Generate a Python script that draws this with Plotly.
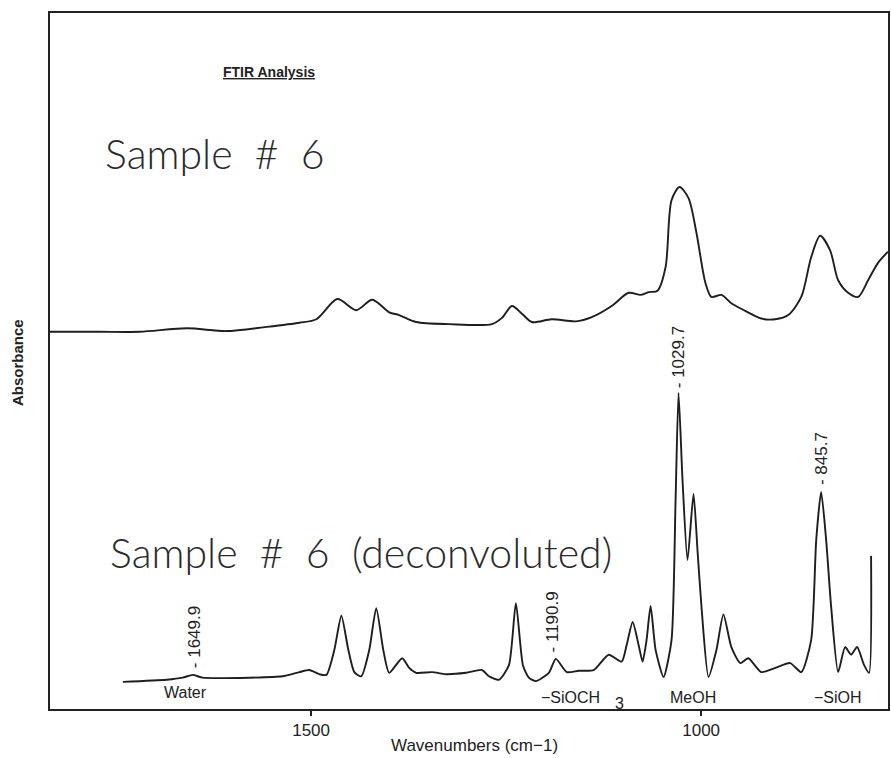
import plotly.graph_objects as go

# ---- data ----
# Sample #6, raw spectrum: wavenumber (cm-1) and absorbance (arbitrary units)
raw_wn = [1834.7, 1770.7, 1719.6, 1659.5, 1608.3, 1557.2, 1515.0, 1493.2, 1466.4, 1442.1,
          1421.6, 1399.9, 1387.1, 1365.3, 1323.1, 1268.1, 1255.4, 1242.6, 1229.8, 1217.0,
          1191.4, 1160.7, 1140.3, 1114.7, 1093.0, 1077.6, 1067.4, 1055.9, 1045.6, 1038.0,
          1027.7, 1016.2, 1006.0, 994.5, 986.8, 974.0, 961.3, 943.4, 922.9, 905.0,
          888.4, 871.7, 859.0, 847.5, 834.7, 824.4, 811.6, 798.8, 786.0, 773.3, 760.5]
raw_abs = [0.542, 0.542, 0.542, 0.547, 0.543, 0.549, 0.555, 0.560, 0.589, 0.573,
           0.588, 0.570, 0.566, 0.556, 0.553, 0.553, 0.562, 0.579, 0.568, 0.556,
           0.560, 0.557, 0.563, 0.579, 0.598, 0.595, 0.599, 0.601, 0.635, 0.731,
           0.750, 0.734, 0.684, 0.612, 0.592, 0.595, 0.583, 0.572, 0.561, 0.560,
           0.566, 0.592, 0.649, 0.680, 0.659, 0.616, 0.598, 0.592, 0.616, 0.641, 0.657]

# Sample #6, deconvoluted spectrum
dec_wn = [1741.3, 1685.0, 1664.6, 1651.8, 1639.0, 1578.9, 1536.7, 1515.0, 1502.2, 1489.4,
          1480.4, 1470.2, 1461.2, 1452.3, 1444.6, 1435.7, 1425.4, 1416.5, 1407.5, 1399.9,
          1383.3, 1374.3, 1365.3, 1344.9, 1327.0, 1301.4, 1281.0, 1272.0, 1259.2, 1246.4,
          1237.5, 1228.5, 1220.9, 1211.9, 1195.3, 1186.3, 1172.2, 1156.9, 1137.7, 1118.5,
          1101.9, 1095.5, 1087.8, 1080.2, 1075.1, 1070.0, 1064.8, 1058.4, 1048.2, 1038.0,
          1032.8, 1029.0, 1023.9, 1017.5, 1009.8, 1004.7, 999.6, 990.6, 980.4, 971.5,
          961.3, 949.8, 939.6, 922.9, 905.0, 885.8, 871.7, 859.0, 852.5, 846.2,
          839.8, 833.4, 824.4, 815.5, 807.8, 800.1, 791.1, 784.8, 782.2]
dec_abs = [0.039, 0.042, 0.045, 0.049, 0.045, 0.045, 0.047, 0.053, 0.056, 0.050,
           0.049, 0.085, 0.134, 0.085, 0.053, 0.047, 0.085, 0.145, 0.085, 0.052,
           0.073, 0.059, 0.052, 0.053, 0.050, 0.052, 0.056, 0.047, 0.042, 0.063,
           0.152, 0.063, 0.045, 0.040, 0.052, 0.072, 0.053, 0.055, 0.056, 0.078,
           0.068, 0.092, 0.125, 0.092, 0.068, 0.099, 0.148, 0.085, 0.046, 0.099,
           0.300, 0.454, 0.329, 0.214, 0.309, 0.228, 0.147, 0.046, 0.085, 0.136,
           0.089, 0.066, 0.073, 0.053, 0.059, 0.066, 0.053, 0.099, 0.243, 0.312,
           0.243, 0.147, 0.053, 0.089, 0.078, 0.089, 0.063, 0.052, 0.220]

peak_labels = ["1649.9", "1190.9", "1029.7", "845.7"]
peak_wn = [1649.9, 1190.9, 1029.7, 845.7]
peak_label_base = [0.056, 0.078, 0.458, 0.319]

group_labels = ["Water", "\u2212SiOCH", "3", "MeOH", "\u2212SiOH"]
group_wn = [1660.7, 1208.0, 1105.1, 1011.1, 824.4]
group_abs = [0.0244, 0.0172, 0.0086, 0.0172, 0.0172]
group_anchor = ["center", "left", "center", "center", "center"]

x_ticks = [1500, 1000]
x_range = [1834.7, 760.5]

# ---- figure ----
line_col = "#1e1e1e"
fig = go.Figure()
fig.add_trace(go.Scatter(x=raw_wn, y=raw_abs, mode="lines",
                         line=dict(color=line_col, width=1.9, shape="spline", smoothing=0.8),
                         showlegend=False, hoverinfo="skip"))
fig.add_trace(go.Scatter(x=dec_wn, y=dec_abs, mode="lines",
                         line=dict(color=line_col, width=1.9, shape="spline", smoothing=0.6),
                         showlegend=False, hoverinfo="skip"))

ann = []
for lab, wn, base in zip(peak_labels, peak_wn, peak_label_base):
    ann.append(dict(x=wn, y=base, xref="x", yref="y", text="- " + lab, showarrow=False,
                    textangle=-90, xanchor="center", yanchor="bottom",
                    font=dict(family="Liberation Sans, Arial", size=17, color="#222")))
for lab, wn, a, anc in zip(group_labels, group_wn, group_abs, group_anchor):
    ann.append(dict(x=wn, y=a, xref="x", yref="y", text=lab, showarrow=False,
                    xanchor=anc, yanchor="middle",
                    font=dict(family="Liberation Sans, Arial", size=16, color="#222")))

sample_font = dict(family="Lato, DejaVu Sans", size=41, color="#2a2a2a", weight=300)
gap = "\u00a0 "
ann.append(dict(x=1766.9, y=0.798, xref="x", yref="y", text="Sample" + gap + "#" + gap + "6",
                showarrow=False, xanchor="left", yanchor="middle", font=sample_font))
ann.append(dict(x=1760.5, y=0.225, xref="x", yref="y",
                text="Sample" + gap + "#" + gap + "6" + gap + "(deconvoluted)",
                showarrow=False, xanchor="left", yanchor="middle", font=sample_font))
ann.append(dict(x=(270 - 50) / 840, y=(709 - 72) / 696, xref="paper", yref="paper",
                text="<b><u>FTIR Analysis</u></b>", showarrow=False,
                xanchor="center", yanchor="middle",
                font=dict(family="Liberation Sans Narrow, Arial Narrow, Liberation Sans", size=14, color="#222")))
ann.append(dict(x=(17 - 50) / 840, y=(709 - 363) / 696, xref="paper", yref="paper",
                text="<b>Absorbance</b>", showarrow=False, textangle=-90,
                xanchor="center", yanchor="middle",
                font=dict(family="Liberation Sans, Arial", size=15, color="#222")))
ann.append(dict(x=(476 - 50) / 840, y=(709 - 745) / 696, xref="paper", yref="paper",
                text="Wavenumbers (cm\u22121)", showarrow=False,
                xanchor="center", yanchor="middle",
                font=dict(family="Liberation Sans, Arial", size=17, color="#222")))

fig.update_layout(
    width=891, height=758,
    margin=dict(l=50, r=1, t=13, b=49),
    paper_bgcolor="white", plot_bgcolor="white",
    annotations=ann,
    xaxis=dict(range=x_range, tickvals=x_ticks, ticktext=[str(t) for t in x_ticks],
               ticks="outside", ticklen=5, tickwidth=1.5, tickcolor="#222",
               tickfont=dict(family="Liberation Sans, Arial", size=17, color="#222"),
               showgrid=False, zeroline=False, showline=True, mirror=True,
               linecolor="#222", linewidth=2),
    yaxis=dict(range=[0, 1], showticklabels=False, ticks="", showgrid=False,
               zeroline=False, showline=True, mirror=True, linecolor="#222", linewidth=2),
)
fig.write_html("out.html")
